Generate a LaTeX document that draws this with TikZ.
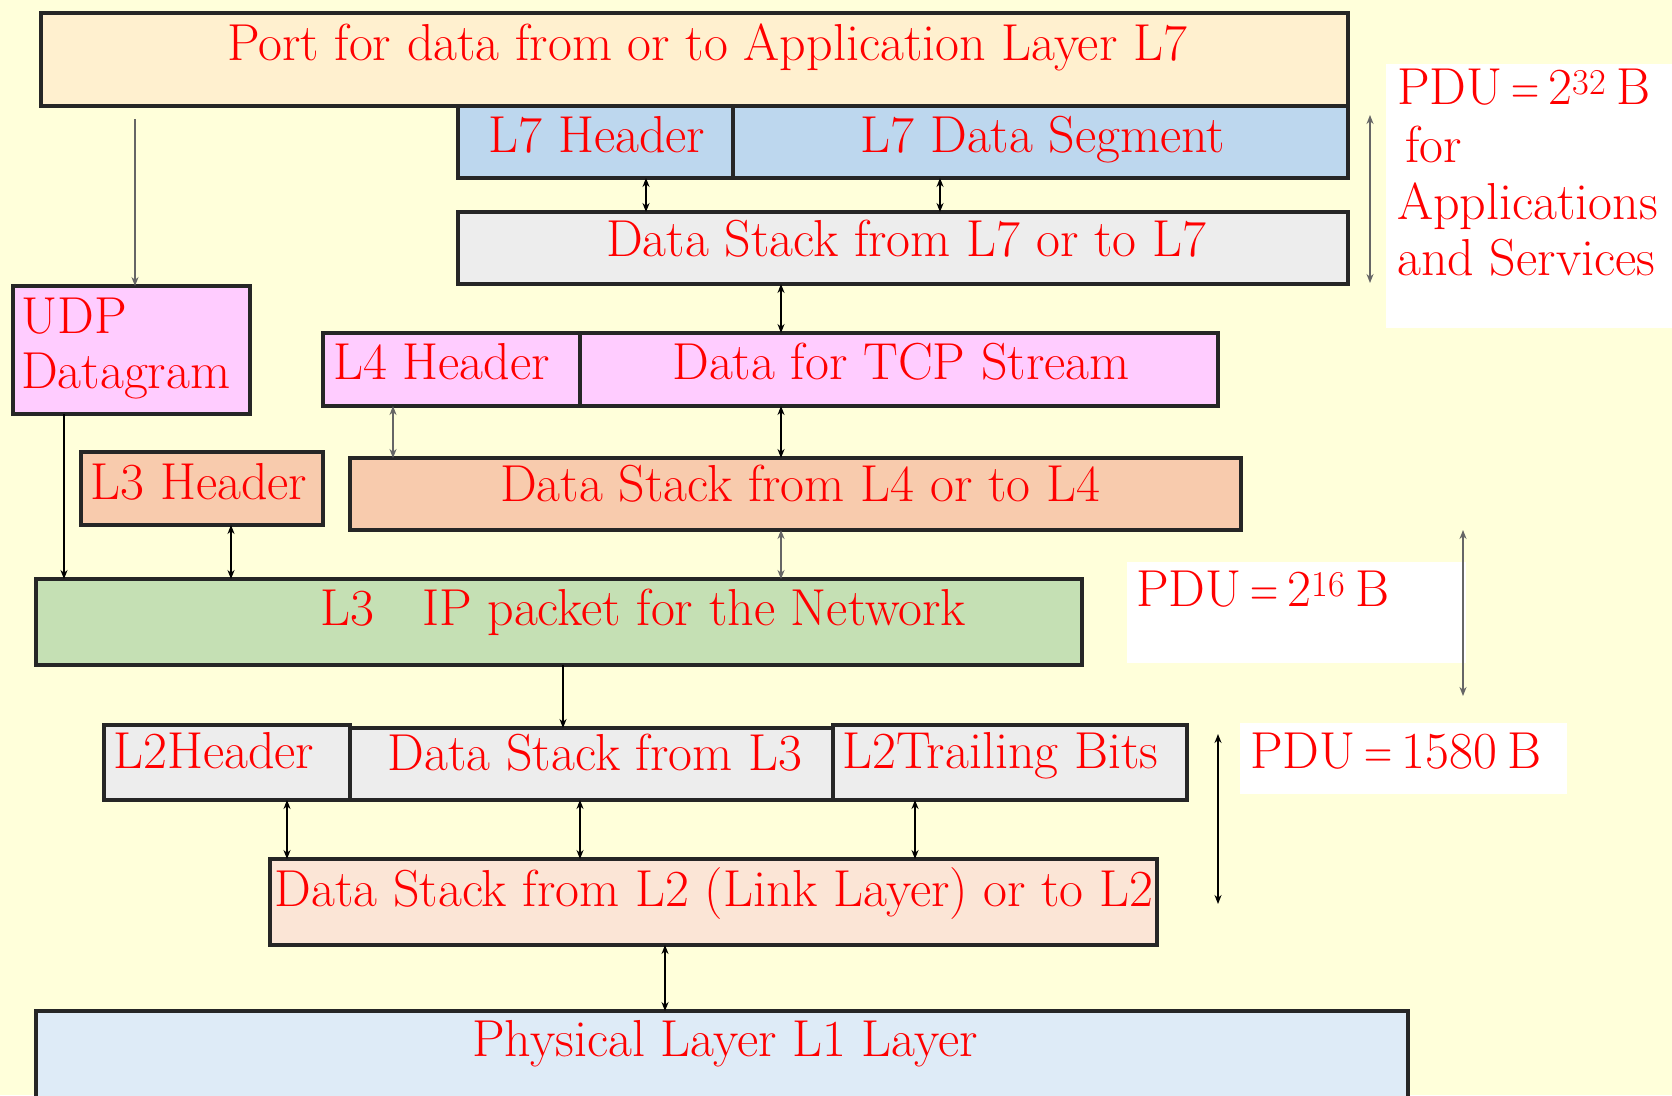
\documentclass[tikz,border=0pt]{standalone}
\usetikzlibrary{arrows.meta,calc}
\definecolor{bg}{HTML}{FFFFDA}
\definecolor{cTop}{HTML}{FFF0CF}
\definecolor{cBlue}{HTML}{BDD7EE}
\definecolor{cGrey}{HTML}{EDEDED}
\definecolor{cPink}{HTML}{FFCCFF}
\definecolor{cSalmon}{HTML}{F8CBAD}
\definecolor{cGreen}{HTML}{C5E0B4}
\definecolor{cPeach}{HTML}{FBE5D6}
\definecolor{cPhy}{HTML}{DEEBF7}
\definecolor{txtred}{HTML}{FF0000}
\newcommand\pdueq{\hspace{9pt}\scalebox{0.75}[1]{=}\hspace{9pt}}
\newcommand\pdusp{\hspace{10pt}}
\begin{document}
\begin{tikzpicture}[x=1pt,y=-1pt,
  box/.style={draw=black!85, line width=3.2pt, inner sep=0pt, outer sep=0pt, anchor=north west},
  wbox/.style={fill=white, draw=none, inner sep=0pt, outer sep=0pt, anchor=north west},
  txt/.style={text=txtred, font=\fontsize{52}{60}\selectfont, inner sep=0pt, anchor=base},
  ltxt/.style={txt, anchor=base west},
  dbl/.style={{Stealth[length=9pt,width=7pt]}-{Stealth[length=9pt,width=7pt]}, line width=1.7pt, draw=black},
  gdbl/.style={dbl, draw=black!60},
  one/.style={-{Stealth[length=9pt,width=7pt]}, line width=1.7pt, draw=black},
]
\useasboundingbox (0,0) rectangle (1672,1095);
\clip (0,0) rectangle (1672,1095);
\fill[bg] (0,0) rectangle (1672,1095);

% boxes
\node[box, fill=cTop, minimum width=1307pt, minimum height=93pt] (top) at (41,13) {};
\node[box, fill=cBlue, minimum width=275pt, minimum height=72pt] (l7h) at (458,106) {};
\node[box, fill=cBlue, minimum width=615pt, minimum height=72pt] (l7d) at (733,106) {};
\node[box, fill=cGrey, minimum width=890pt, minimum height=72pt] (ds7) at (458,212) {};
\node[box, fill=cPink, minimum width=237pt, minimum height=128pt] (udp) at (13,286) {};
\node[box, fill=cPink, minimum width=257pt, minimum height=73pt] (l4h) at (323,333) {};
\node[box, fill=cPink, minimum width=638pt, minimum height=73pt] (tcp) at (580,333) {};
\node[box, fill=cSalmon, minimum width=242pt, minimum height=73pt] (l3h) at (81,452) {};
\node[box, fill=cSalmon, minimum width=891pt, minimum height=72pt] (ds4) at (350,458) {};
\node[box, fill=cGreen, minimum width=1046pt, minimum height=86pt] (l3) at (36,579) {};
\node[box, fill=cGrey, minimum width=246pt, minimum height=75pt] (l2h) at (104,725) {};
\node[box, fill=cGrey, minimum width=483pt, minimum height=72pt] (ds3) at (350,728) {};
\node[box, fill=cGrey, minimum width=354pt, minimum height=75pt] (l2t) at (833,725) {};
\node[box, fill=cPeach, minimum width=887pt, minimum height=86pt] (ds2) at (270,859) {};
\node[box, fill=cPhy, minimum width=1372pt, minimum height=130pt] (phy) at (36,1011) {};

\node[wbox, minimum width=286pt, minimum height=264pt] (p32) at (1386,64) {};
\node[wbox, minimum width=339pt, minimum height=101pt] (p16) at (1127,562) {};
\node[wbox, minimum width=327pt, minimum height=71pt] (p15) at (1240,723) {};

% texts
\node[txt] (tTop) at (707,60) {Port for data from or to Application Layer L7};
\node[txt] (tL7h) at (597,152) {L7 Header};
\node[txt] (tL7d) at (1043,152) {L7 Data Segment};
\node[txt] (tDs7) at (906,256) {Data Stack from L7 or to L7};
\node[ltxt] (tUdp1) at (21,333) {UDP};
\node[ltxt] (tUdp2) at (21,388) {Datagram};
\node[ltxt] (tL4h) at (333,379) {L4 Header};
\node[txt] (tTcp) at (901,379) {Data for TCP Stream};
\node[txt] (tL3h) at (199,499) {L3 Header};
\node[txt] (tDs4) at (800,501) {Data Stack from L4 or to L4};
\node[ltxt] (tL3) at (320,625) {L3\hspace{48pt}IP packet for the Network};
\node[ltxt] (tL2h) at (113,768) {L2Header};
\node[txt] (tDs3) at (595,770) {Data Stack from L3};
\node[ltxt] (tL2t) at (842,768) {L2Trailing Bits};
\node[txt] (tDs2) at (714,906) {Data Stack from L2 (Link Layer) or to L2};
\node[txt] (tPhy) at (725,1056) {Physical Layer L1 Layer};

\node[ltxt] (tP32a) at (1397,104) {PDU\pdueq 2\textsuperscript{32}\pdusp B};
\node[ltxt] (tP32b) at (1405,162) {for};
\node[ltxt] (tP32c) at (1397,219) {Applications};
\node[ltxt] (tP32d) at (1397,275) {and Services};
\node[ltxt] (tP16) at (1136,606) {PDU\pdueq 2\textsuperscript{16}\pdusp B};
\node[ltxt] (tP15) at (1250,768) {PDU\pdueq 1580\pdusp B};

% connectors
\draw[one, draw=black!60] ($(top.south -| 135,0)+(0,13)$) -- (udp.north -| 135,0);
\draw[dbl] (l7h.south -| 646,0) -- (ds7.north -| 646,0);
\draw[dbl] (l7d.south -| 940,0) -- (ds7.north -| 940,0);
\draw[dbl] (ds7.south -| 781,0) -- (tcp.north -| 781,0);
\draw[gdbl] (l4h.south -| 393,0) -- (ds4.north -| 393,0);
\draw[dbl] (tcp.south -| 781,0) -- (ds4.north -| 781,0);
\draw[one] (udp.south -| 64,0) -- (l3.north -| 64,0);
\draw[dbl] (l3h.south -| 231,0) -- (l3.north -| 231,0);
\draw[gdbl] (ds4.south -| 781,0) -- (l3.north -| 781,0);
\draw[one] (l3.south -| 563,0) -- (ds3.north -| 563,0);
\draw[dbl] (l2h.south -| 287,0) -- (ds2.north -| 287,0);
\draw[dbl] (ds3.south -| 580,0) -- (ds2.north -| 580,0);
\draw[dbl] (l2t.south -| 915,0) -- (ds2.north -| 915,0);
\draw[dbl] (ds2.south -| 665,0) -- (phy.north -| 665,0);

\coordinate (a32t) at (1370,115);
\coordinate (a32b) at (1370,283);
\draw[gdbl] (a32t) -- (a32b);
\coordinate (a16t) at (1463,530);
\coordinate (a16b) at (1463,696);
\draw[gdbl] (a16t) -- (a16b);
\coordinate (a15t) at (1218,734);
\coordinate (a15b) at (1218,904);
\draw[dbl] (a15t) -- (a15b);
\end{tikzpicture}
\end{document}
